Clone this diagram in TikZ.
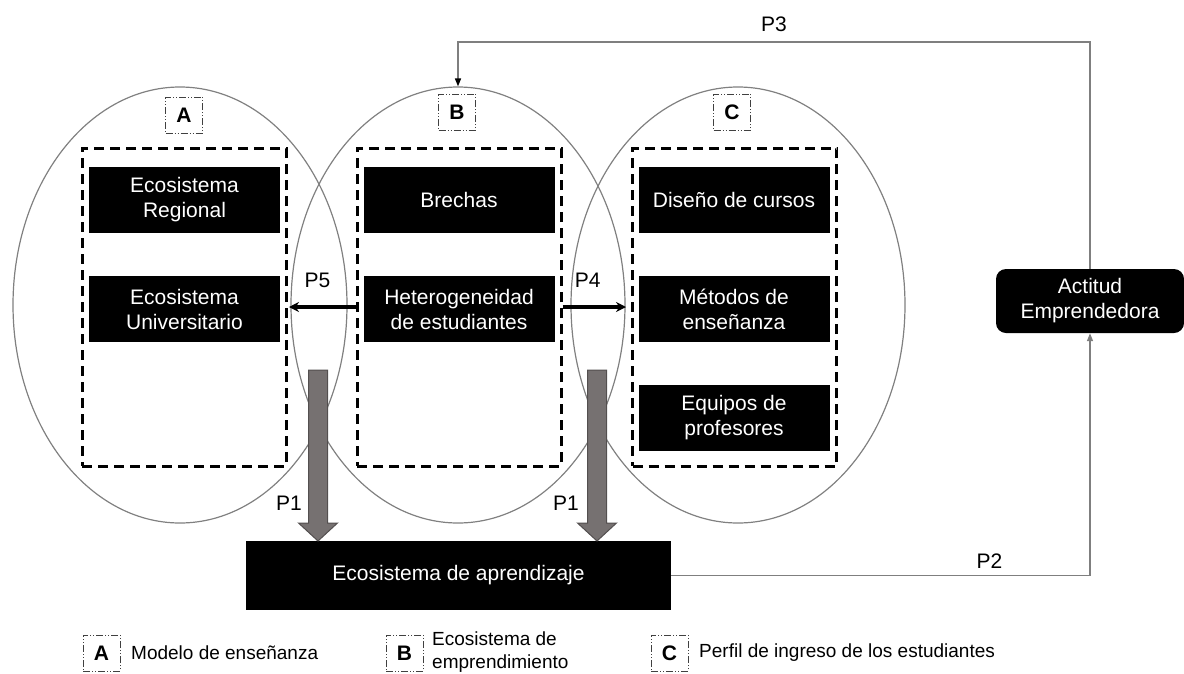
\documentclass[tikz,border=0pt]{standalone}
\usepackage{fontspec}
\setmainfont{Liberation Sans}
\usetikzlibrary{shapes.geometric,positioning,arrows.meta}

\definecolor{ringgrey}{HTML}{808080}
\definecolor{linkgrey}{HTML}{7F7F7F}
\definecolor{flowgrey}{HTML}{767171}
\definecolor{tagline}{HTML}{404040}

\tikzset{
  ring/.style={draw=ringgrey, line width=1.2pt, ellipse, minimum width=334pt, minimum height=436pt, inner sep=0pt},
  frame/.style={draw, line width=3pt, dash pattern=on 10pt off 6pt, minimum width=204pt, minimum height=318pt, inner sep=0pt},
  blk/.style={fill=black, text=white, minimum width=191pt, minimum height=66pt, inner sep=0pt, align=center, font=\fontsize{21}{25}\selectfont},
  tag/.style={draw=tagline, line width=1pt, dash pattern=on 7pt off 2pt on 1pt off 2pt on 1pt off 2pt, minimum width=37pt, minimum height=36pt, inner sep=0pt, font=\fontsize{21}{25}\selectfont\bfseries},
  plab/.style={font=\fontsize{21}{25}\selectfont},
  legtext/.style={anchor=west, align=left, inner sep=0pt, font=\fontsize{19}{23}\selectfont},
  pull/.style={line width=3.5pt, -{Stealth[length=10pt,width=10pt]}},
  fback/.style={draw=linkgrey, line width=1.5pt, -{Triangle[length=8pt,width=6pt]}},
  flow/.style={fill=flowgrey, draw=flowgrey!70!black, line width=1pt}
}

\begin{document}
\begin{tikzpicture}[x=1pt,y=-1pt,node distance=109pt,on grid]
\useasboundingbox (0,0) rectangle (1184,673);
% the three ellipses
\node[ring] (A) at (180,305) {};
\node[ring] (B) at (458,305) {};
\node[ring] (C) at (738,305) {};
\node[tag] (ta) at (184,115) {A};
\node[tag] (tb) at (457,112) {B};
\node[tag] (tc) at (732,112) {C};
% dashed frames
\node[frame] (frA) at (184,307) {};
\node[frame] (frB) at (459,307) {};
\node[frame] (frC) at (734.5,307) {};
% boxes
\node[blk] (er) at (184.5,200) {Ecosistema\\Regional};
\node[blk] (eu) [below=of er] {Ecosistema\\Universitario};
\node[blk] (br) at (459,200) {Brechas};
\node[blk] (he) [below=of br] {Heterogeneidad\\de estudiantes};
\node[blk] (dc) at (734,200) {Diseño de cursos};
\node[blk] (me) [below=of dc] {Métodos de\\enseñanza};
\node[blk] (ep) [below=of me] {Equipos de\\profesores};
\node[blk, minimum width=425pt, minimum height=69pt] (ea) at (458.5,575.5) {Ecosistema de aprendizaje};
\node[blk, rounded corners=10pt, minimum width=188pt, minimum height=64pt] (ac) at (1090,301) {Actitud\\Emprendedora};
% P5 and P4
\coordinate (ly) at (0,307);
\draw[pull, shorten >=1.5pt] (frB.west |- ly) -- node[plab, above=14pt, xshift=-4pt] {P5} (frA.east |- ly);
\draw[pull, shorten >=5pt] (frB.east |- ly) -- node[plab, above=14pt, xshift=-9pt] {P4} (frC.west |- ly);
% P1
\foreach \x in {318,597}
  \draw[flow] (\x-9.5,370) -- (\x+9.5,370) -- (\x+9.5,523) -- (\x+19.5,523) -- (\x,541) -- (\x-19.5,523) -- (\x-9.5,523) -- cycle;
\node[plab] (p1a) at (289,503) {P1};
\node[plab] (p1b) at (566,503) {P1};
% P3 and P2
\coordinate (top) at (0,42);
\draw[fback, -{Triangle[length=8pt,width=6pt,black]}] (ac.north) -- (ac.north |- top) -- node[plab, above=6pt] {P3} (B.north |- top) -- (B.north);
\draw[fback] (ea.east) -| node[plab, above=3pt, pos=0.38] {P2} (ac.south);
% legend
\node[tag] (la) at (101.5,653) {A};
\node[legtext] (lta) at (131,653) {Modelo de enseñanza};
\node[tag] (lb) at (404.5,653) {B};
\node[legtext] (ltb) at (432,652) {Ecosistema de\\emprendimiento};
\node[tag] (lc) at (669.5,653) {C};
\node[legtext] (ltc) at (699,653) {Perfil de ingreso de los estudiantes};
\end{tikzpicture}
\end{document}
